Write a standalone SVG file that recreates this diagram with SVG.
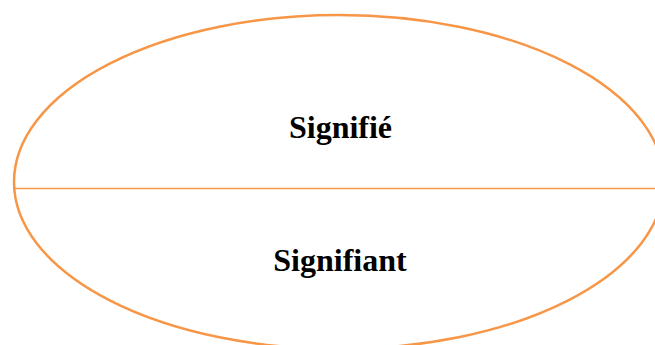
<svg xmlns="http://www.w3.org/2000/svg" width="655" height="345" viewBox="0 0 655 345">
<style>
.shape{fill:none;stroke:#F79646}
.lbl{font-family:"Liberation Serif","Times New Roman",serif;font-weight:bold;font-size:32px;fill:#000;text-anchor:middle}
</style>
<rect width="655" height="345" fill="#fff"/>
<g id="ellipse">
<ellipse class="shape" cx="339" cy="182" rx="325" ry="167" stroke-width="2.5"/>
</g>
<g id="connectors">
<line class="shape" x1="14" y1="188.5" x2="655" y2="188.5" stroke-width="1.3"/>
</g>
<g id="signifie"><text class="lbl" x="340.5" y="137.5">Signifié</text></g>
<g id="signifiant"><text class="lbl" x="340" y="271">Signifiant</text></g>
</svg>
